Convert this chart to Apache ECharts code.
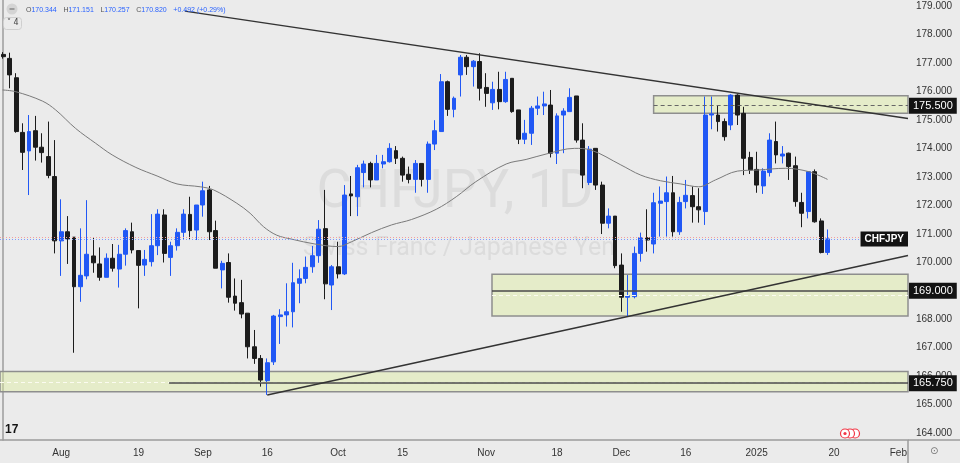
<!DOCTYPE html>
<html>
<head>
<meta charset="utf-8">
<script src="https://cdn.jsdelivr.net/npm/echarts@6/dist/echarts.min.js"></script>
<style>
html,body{margin:0;padding:0;background:#ebebeb;}
#chart{width:960px;height:463px;}
</style>
</head>
<body>
<div id="chart"></div>
<script>
// ---- Data ----
const openP = [177.30,177.16,176.48,174.56,173.91,174.62,174.04,173.71,173.01,170.75,
171.07,170.88,169.14,169.52,170.22,169.94,169.47,170.14,169.76,170.28,
171.07,170.41,169.90,170.02,170.58,171.66,170.17,170.58,171.05,171.68,
171.13,172.01,172.54,171.11,169.73,169.99,168.81,168.58,168.21,167.03,
166.62,165.84,166.50,168.09,168.15,168.26,169.26,169.43,169.84,170.23,
171.18,169.20,169.84,169.59,172.40,172.30,173.15,173.47,172.89,173.45,
173.53,173.92,173.65,173.09,172.91,173.47,172.91,174.15,174.59,176.34,
175.37,176.58,177.20,176.87,177.05,176.14,175.60,176.07,175.64,176.46,
175.35,174.32,174.53,175.41,175.49,175.52,173.83,175.17,175.29,175.84,
174.29,172.80,174.00,172.71,171.37,171.62,169.90,168.77,168.79,170.31,
170.86,170.64,172.07,172.13,172.44,171.07,172.13,172.34,171.95,171.78,
175.17,175.17,174.94,174.82,175.87,175.23,173.68,173.26,172.68,173.15,
174.24,173.73,173.83,173.39,172.10,171.78,173.18,171.45,170.344];
const highP = [177.38,177.36,176.64,174.88,175.17,175.14,174.53,174.94,174.29,172.21,
171.62,170.88,171.19,172.18,170.86,170.52,170.31,170.64,170.61,171.19,
171.39,170.41,170.43,171.69,171.86,171.86,170.72,171.19,171.86,172.30,
172.01,172.83,172.68,171.46,170.05,170.31,169.43,169.38,168.21,167.62,
166.74,166.62,168.15,168.35,169.26,169.98,169.75,170.20,170.57,171.48,
172.54,169.90,170.72,172.71,173.03,173.42,173.57,173.53,173.77,173.77,
174.18,174.08,173.71,173.36,173.59,173.47,174.24,174.99,176.61,176.38,
175.82,177.28,177.28,177.10,177.34,176.64,176.34,176.69,176.69,176.46,
175.35,175.00,175.49,175.82,175.99,176.05,175.23,175.41,176.11,175.84,
174.88,174.08,174.00,172.83,171.89,171.62,170.31,169.55,170.55,171.04,
171.86,172.44,172.66,173.01,173.03,172.30,172.89,172.66,172.60,175.82,
175.82,175.52,175.05,175.90,175.90,175.46,173.88,173.88,173.30,174.53,
174.94,174.08,173.85,173.71,172.44,173.18,173.26,171.54,171.151];
const lowP = [177.15,176.11,174.55,173.24,172.36,173.57,173.50,172.95,170.31,169.52,
169.94,166.82,168.61,169.40,169.63,169.35,169.47,169.67,169.11,169.88,
170.31,168.38,169.52,169.85,170.25,169.99,169.52,170.41,170.81,170.78,
170.78,171.60,170.78,169.79,169.08,168.58,168.30,168.03,166.62,166.43,
165.63,165.34,166.39,167.13,167.74,167.71,168.56,169.26,169.63,169.98,
168.70,168.32,169.43,169.55,171.62,171.62,172.63,172.63,172.89,173.30,
173.50,173.45,172.83,172.77,172.44,172.66,172.44,173.94,174.59,175.14,
175.09,175.82,176.58,176.17,175.68,175.46,175.35,175.37,175.60,175.25,
174.15,174.15,174.12,175.17,175.17,173.68,173.45,173.83,175.29,174.20,
172.60,172.71,172.54,170.99,171.19,169.79,168.26,168.09,168.73,170.02,
170.37,170.31,170.90,170.90,170.90,170.96,171.89,171.39,171.39,171.31,
174.67,174.59,174.27,174.64,174.82,173.06,173.10,172.44,172.40,173.01,
173.47,173.47,172.89,171.95,171.23,171.54,171.39,170.31,170.257];
const closeP = [177.22,176.58,174.59,173.86,174.59,174.04,173.85,173.05,170.75,171.07,
170.82,169.14,169.54,170.28,169.98,169.47,170.14,169.79,170.28,171.11,
170.43,169.89,170.10,170.58,171.69,170.31,170.58,171.05,171.69,171.11,
172.01,172.51,171.07,169.79,169.96,168.77,168.56,168.18,167.03,166.62,
165.86,166.47,168.11,168.15,168.26,169.28,169.42,169.82,170.23,171.16,
169.24,169.84,169.59,172.36,172.33,173.32,173.45,172.89,173.47,173.53,
174.00,173.65,173.06,172.91,173.47,172.91,174.15,174.62,176.34,175.37,
175.76,177.20,176.87,177.06,176.11,175.93,176.07,175.64,176.42,175.29,
174.32,174.53,175.41,175.49,175.56,173.83,175.14,175.31,175.79,174.29,
173.06,173.97,172.71,171.37,171.62,169.88,168.77,168.82,170.31,170.86,
170.78,172.09,172.15,172.44,171.07,172.10,172.35,171.95,171.84,175.17,
175.21,174.94,174.41,175.87,175.17,173.65,173.24,172.71,173.20,174.29,
173.77,173.80,173.36,172.13,171.72,173.18,171.42,170.34,170.820];

// moving-average line, points: [bar position, price]
const maPos = [-0.1,1.95,6.09,8.14,11.24,14.34,16.92,20.6,23.89,26.99,30.6,32.67,36.28,38.34,40.41,42.47,44.8,48.4,52.0,54.1,57.2,60.3,63.4,67.25,70.35,73.4,78.1,81.2,84.3,88.7,91.25,95.9,99.0,102.1,105.2,108.0,110.6,114.0,117.3,121.5,125.1,128.0];
const maVal = [176.05,175.99,175.66,175.35,174.70,174.18,173.77,173.33,173.03,172.75,172.65,172.54,172.07,171.72,171.25,170.95,170.81,170.64,170.55,170.72,171.04,171.31,171.50,171.86,172.30,172.83,173.45,173.61,173.80,174.00,173.94,173.42,173.06,172.86,172.75,172.65,172.89,173.20,173.24,173.30,173.18,172.91];

// x-axis tick labels
const tickDates = ['2024-08-01','2024-08-19','2024-09-02','2024-09-16','2024-10-01','2024-10-15','2024-11-01','2024-11-18','2024-12-02','2024-12-16','2025-01-02','2025-01-20','2025-02-03'];
const tickTexts = ['Aug','19','Sep','16','Oct','15','Nov','18','Dec','16','2025','20','Feb'];

// drawings: zones [fromBar, toBar, lowPrice, highPrice]
const zoneFrom = [101, 75.9, -0.5];
const zoneTo = [140.5, 140.5, 140.5];
const zoneLow = [175.23, 168.11, 165.45];
const zoneHigh = [175.85, 169.58, 166.16];
// trend lines [bar, price] pairs
const upperLine = [[28.2, 178.82], [140.5, 175.05]];
const lowerLine = [[41, 165.34], [140.5, 170.24]];
// horizontal levels
const levelPrice = [175.5, 169.0, 165.75];
const levelFrom = [101, 75.9, 25.75];
const levelText = ['175.500', '169.000', '165.750'];
const lastPrice = 170.82;
const prevPrice = 170.88;

// ---- categories: weekday trading dates ----
const holidays = ['2024-12-25', '2025-01-01'];
const dates = [];
(function () {
  const d = new Date(Date.UTC(2024, 6, 19));
  while (dates.length < 141) {
    const wd = d.getUTCDay();
    const s = d.toISOString().slice(0, 10);
    if (wd !== 0 && wd !== 6 && holidays.indexOf(s) < 0) dates.push(s);
    d.setUTCDate(d.getUTCDate() + 1);
  }
})();

const candles = openP.map((o, i) => [o, closeP[i], lowP[i], highP[i]]);
const maData = maPos.map((p, i) => [p, maVal[i]]);

const FONT = 'Liberation Sans';
const chart = echarts.init(document.getElementById('chart'), null, {renderer: 'canvas'});

const zoneAreas = zoneFrom.map((f, i) => [{coord: [f, zoneLow[i]]}, {coord: [zoneTo[i], zoneHigh[i]]}]);

const levelLines = levelPrice.map((p, i) => [
  {coord: [levelFrom[i], p], lineStyle: i === 0 ? {type: [4, 3], color: '#666', width: 1} : {type: 'solid', color: '#4a4a4a', width: 1.5},
   label: {show: true, position: 'end', distance: 1, formatter: levelText[i], color: '#fff', backgroundColor: '#131313', padding: [3, 4, 2, 4], fontFamily: FONT, fontSize: 11}},
  {coord: [140.5, p]}
]);

const option = {
  backgroundColor: '#ebebeb',
  animation: false,
  grid: {left: -2.53, right: 52, top: 0, bottom: 23, containLabel: false},
  xAxis: [
    {
      type: 'category', data: dates, boundaryGap: true,
      axisLine: {show: true, lineStyle: {color: '#9c9c9c', width: 1.5}},
      axisTick: {show: false},
      splitLine: {show: false},
      axisLabel: {
        interval: (idx, val) => tickDates.indexOf(val) >= 0,
        formatter: (val) => { const k = tickDates.indexOf(val); return k >= 0 ? tickTexts[k] : ''; },
        color: '#333', fontFamily: FONT, fontSize: 10, margin: 8
      }
    },
    {type: 'value', show: false, min: -0.5, max: 140.5, gridIndex: 0}
  ],
  yAxis: {
    type: 'value', position: 'right', scale: true,
    min: 163.7556, max: 179.2108, splitNumber: 15, minInterval: 1, maxInterval: 1,
    axisLine: {show: true, lineStyle: {color: '#9c9c9c', width: 1.5}},
    axisTick: {show: false},
    splitLine: {show: false},
    axisLabel: {
      color: '#333', fontFamily: FONT, fontSize: 10, margin: 8,
      formatter: (v) => Math.abs(v - Math.round(v)) < 1e-6 ? v.toFixed(3) : ''
    }
  },
  graphic: [
    {type: 'text', z: 0, x: 455, y: 166, style: {text: 'CHFJPY, 1D', font: '54px Roboto', fill: '#dcdcdc', textAlign: 'center'}},
    {type: 'text', z: 0, x: 459, y: 236, style: {text: 'Swiss Franc / Japanese Yen', font: '25px Roboto', fill: '#dcdcdc', textAlign: 'center'}},
    {type: 'circle', z: 50, shape: {cx: 12, cy: 9, r: 5.5}, style: {fill: '#d4d4d4'}},
    {type: 'line', z: 51, shape: {x1: 9.5, y1: 9, x2: 14.5, y2: 9}, style: {stroke: '#777', lineWidth: 1.2}},
    {type: 'rect', z: 50, shape: {x: 3.5, y: 17.5, width: 18, height: 12, r: 3}, style: {fill: 'none', stroke: '#cfcfcf'}},
    {type: 'text', z: 51, x: 7, y: 18.5, style: {text: '\u02C5 4', font: '8px "DejaVu Sans"', fill: '#444'}},
    {type: 'text', z: 50, x: 26, y: 4.5, style: {
      text: '{k|O}{v|170.344}  {k|H}{v|171.151}  {k|L}{v|170.257}  {k|C}{v|170.820}  {v|+0.492 (+0.29%)}',
      rich: {k: {fill: '#555', font: '7px "Liberation Sans"'}, v: {fill: '#2962ff', font: '7px "Liberation Sans"'}}
    }},
    {type: 'text', z: 50, x: 5, y: 424, style: {text: '17', font: 'bold 12px "Liberation Sans"', fill: '#131313'}},
    {type: 'circle', z: 50, shape: {cx: 855, cy: 433.5, r: 4.5}, style: {fill: '#fff', stroke: '#f23645', lineWidth: 1.2}},
    {type: 'circle', z: 50, shape: {cx: 850, cy: 433.5, r: 4.5}, style: {fill: '#fff', stroke: '#f23645', lineWidth: 1.2}},
    {type: 'circle', z: 50, shape: {cx: 845, cy: 433.5, r: 4.5}, style: {fill: '#fff', stroke: '#f23645', lineWidth: 1.2}},
    {type: 'circle', z: 51, shape: {cx: 845, cy: 433.5, r: 1.6}, style: {fill: '#f23645'}},
    {type: 'line', z: 50, shape: {x1: 908, y1: 440, x2: 960, y2: 440}, style: {stroke: '#9c9c9c', lineWidth: 1.5}},
    {type: 'line', z: 50, shape: {x1: 908, y1: 440, x2: 908, y2: 463}, style: {stroke: '#9c9c9c', lineWidth: 1.5}},
    {type: 'text', z: 50, x: 930, y: 446, style: {text: '\u2299', font: '10px "DejaVu Sans"', fill: '#777'}}
  ],
  series: [
    {
      name: 'CHFJPY', type: 'candlestick', data: candles, z: 2,
      barWidth: '68%',
      itemStyle: {color: '#2158f5', borderColor: '#2158f5', color0: '#1c1c1c', borderColor0: '#1c1c1c', borderWidth: 1}
    },
    {
      name: 'MA', type: 'line', xAxisIndex: 1, data: maData, smooth: 0.35, showSymbol: false, z: 3,
      lineStyle: {color: '#7a7a7a', width: 1}
    },
    {
      name: 'zones', type: 'line', xAxisIndex: 1, data: [], z: 4,
      markArea: {silent: true, label: {show: false}, itemStyle: {color: 'rgba(222,238,160,0.45)', borderColor: '#8e8e8e', borderWidth: 1.5}, data: zoneAreas},
      markLine: {silent: true, symbol: ['none', 'none'],
        lineStyle: {color: '#fbfbf0', type: [4, 3], width: 1},
        label: {show: false},
        data: [
          [{coord: [75.9, 168.85]}, {coord: [140.5, 168.85]}],
          [{coord: [-0.5, 165.80]}, {coord: [140.5, 165.80]}]
        ]}
    },
    {
      name: 'levels', type: 'line', xAxisIndex: 1, data: [], z: 5,
      markLine: {silent: true, symbol: ['none', 'none'], data: levelLines}
    },
    {
      name: 'upper', type: 'line', xAxisIndex: 1, data: upperLine, z: 5, showSymbol: false,
      lineStyle: {color: '#333', width: 1.5}
    },
    {
      name: 'lower', type: 'line', xAxisIndex: 1, data: lowerLine, z: 5, showSymbol: false,
      lineStyle: {color: '#333', width: 1.5}
    },
    {
      name: 'price', type: 'line', xAxisIndex: 1, data: [], z: 6,
      markLine: {silent: true, symbol: ['none', 'none'], data: [
        [{coord: [-0.5, prevPrice], lineStyle: {color: '#f0a0a0', type: [1, 2], width: 1}, label: {show: false}}, {coord: [140.5, prevPrice]}],
        [{coord: [-0.5, lastPrice], lineStyle: {color: '#7a9cff', type: [1, 2], width: 1},
          label: {show: true, position: 'insideEnd', distance: 0, formatter: 'CHFJPY', color: '#fff', backgroundColor: '#131313',
                  padding: [3, 4, 2, 4], fontFamily: FONT, fontWeight: 'bold', fontSize: 10}},
         {coord: [140.5, lastPrice]}]
      ]}
    }
  ]
};
chart.setOption(option);
</script>
</body>
</html>
